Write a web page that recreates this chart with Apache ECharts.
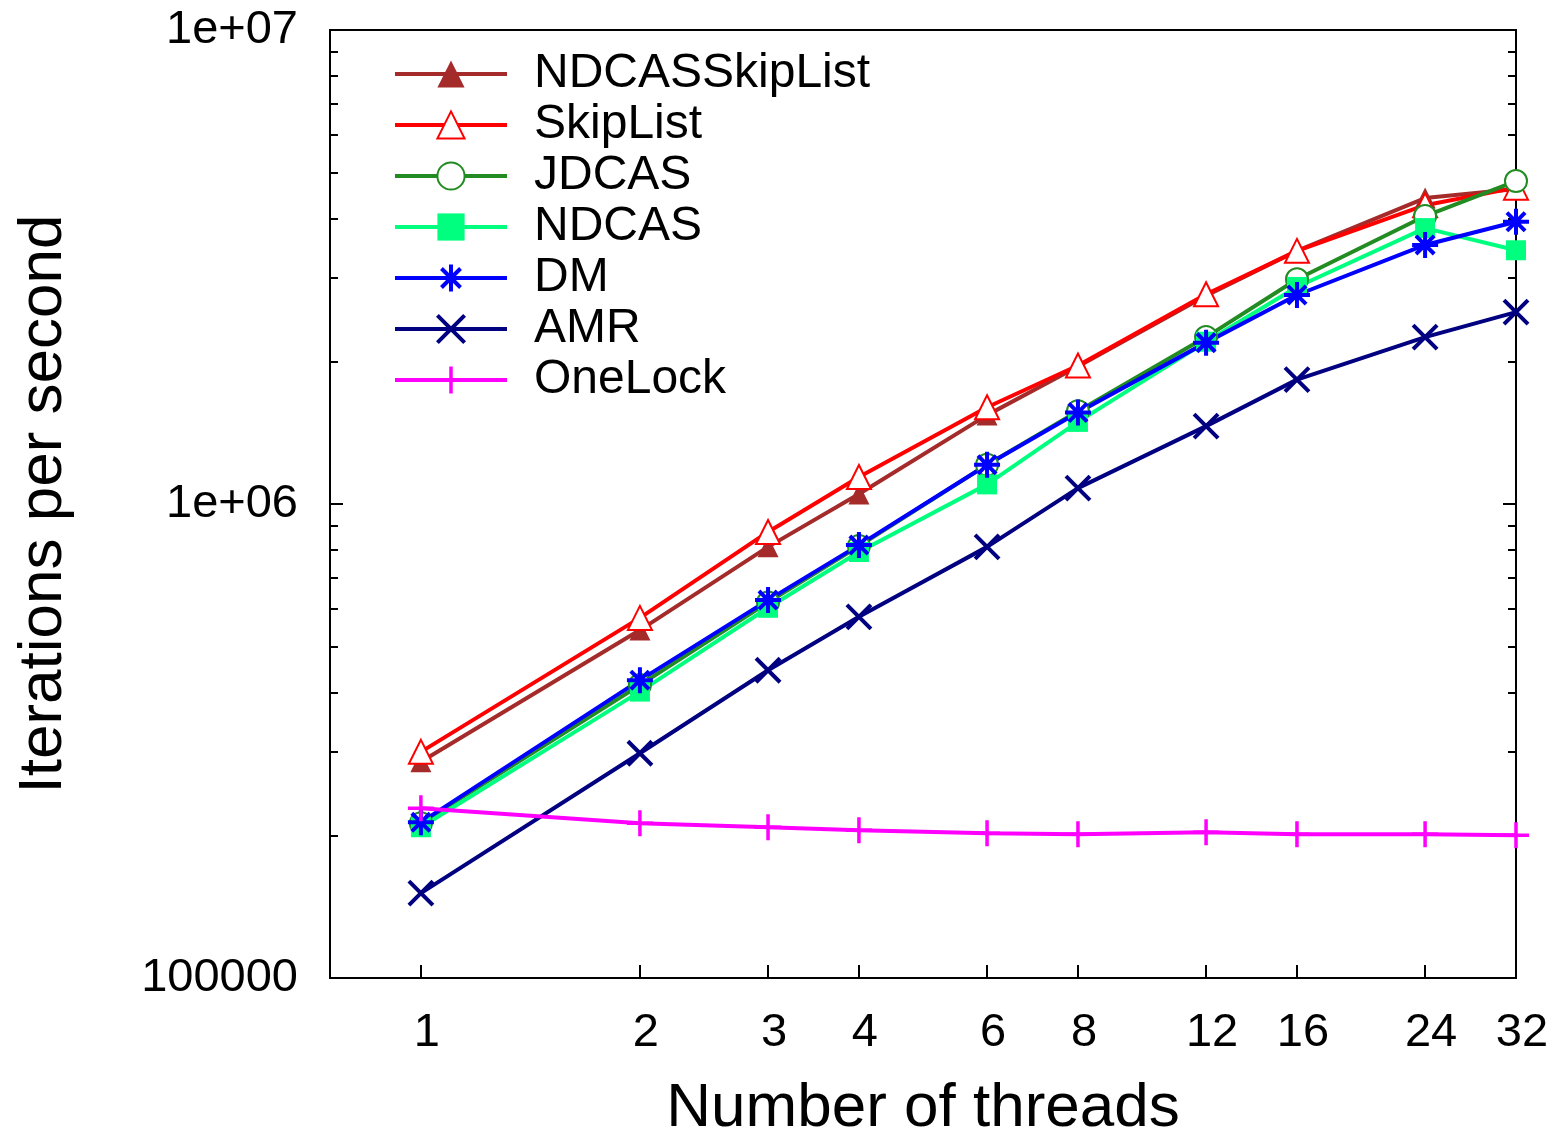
<!DOCTYPE html>
<html>
<head>
<meta charset="utf-8">
<script src="https://cdn.jsdelivr.net/npm/echarts@6/dist/echarts.min.js"></script>
<style>
  html, body { margin: 0; padding: 0; background: #fff; }
  #chart { width: 1555px; height: 1134px; }
</style>
</head>
<body>
<div id="chart"></div>
<script>
// x: number of threads
const threads = [1, 2, 3, 4, 6, 8, 12, 16, 24, 32]

// iterations per second, one list per implementation
const ndcasSkipList = [2.86e5, 5.42e5, 8.12e5, 1.05e6, 1.54e6, 1.95e6, 2.75e6, 3.42e6, 4.42e6, 4.62e6]
const skipList = [3.0e5, 5.75e5, 8.73e5, 1.14e6, 1.60e6, 1.96e6, 2.77e6, 3.42e6, 4.27e6, 4.65e6]
const jdcas = [2.12e5, 4.15e5, 6.2e5, 8.15e5, 1.21e6, 1.57e6, 2.25e6, 2.98e6, 4.05e6, 4.80e6]
const ndcas = [2.08e5, 4.02e5, 6.04e5, 7.92e5, 1.10e6, 1.49e6, 2.20e6, 2.87e6, 3.82e6, 3.43e6]
const dm = [2.13e5, 4.25e5, 6.27e5, 8.19e5, 1.21e6, 1.56e6, 2.19e6, 2.76e6, 3.52e6, 3.94e6]
const amr = [1.51e5, 2.98e5, 4.46e5, 5.78e5, 8.12e5, 1.08e6, 1.46e6, 1.83e6, 2.25e6, 2.54e6]
const oneLock = [2.28e5, 2.12e5, 2.08e5, 2.05e5, 2.02e5, 2.01e5, 2.03e5, 2.01e5, 2.01e5, 2.0e5]

// y tick values and labels
const yMajorTicks = [1e5, 1e6, 1e7]
const yMajorLabels = ['100000', '1e+06', '1e+07']
const yMinorTicks = [2e5, 3e5, 4e5, 5e5, 6e5, 7e5, 8e5, 9e5, 2e6, 3e6, 4e6, 5e6, 6e6, 7e6, 8e6, 9e6]

const FONT = '"Liberation Sans", Arial, Helvetica, sans-serif'

const toPairs = (ys) => threads.map((t, i) => [t, ys[i]])

// 系列定义
const seriesDefs = [
  { name: 'NDCASSkipList', data: ndcasSkipList, color: '#a52a2a', symbol: 'triangle', size: 21, border: 0 },
  { name: 'SkipList', data: skipList, color: '#ff0000', symbol: 'emptyTriangle', size: 24, border: 3.5 },
  { name: 'JDCAS', data: jdcas, color: '#228b22', symbol: 'emptyCircle', size: 22, border: 3.5 },
  { name: 'NDCAS', data: ndcas, color: '#00ff7f', symbol: 'rect', size: 20, border: 0 },
  { name: 'DM', data: dm, color: '#0000ff', symbol: 'path://M0,-10L0,10M-10,0L10,0M-7,-7L7,7M-7,7L7,-7', size: 26, border: 4 },
  { name: 'AMR', data: amr, color: '#000080', symbol: 'path://M-10,-10L10,10M-10,10L10,-10', size: 24, border: 4 },
  { name: 'OneLock', data: oneLock, color: '#ff00ff', symbol: 'path://M0,-10L0,10M-10,0L10,0', size: 26, border: 3.5 }
]

const series = seriesDefs.map(d => ({
  name: d.name,
  type: 'line',
  data: toPairs(d.data),
  symbol: d.symbol,
  symbolSize: d.size,
  showAllSymbol: true,
  clip: false,
  color: d.color,
  lineStyle: { color: d.color, width: 4 },
  itemStyle: { color: d.color, borderColor: d.color, borderWidth: d.border },
  emphasis: { disabled: true }
}))

const yBase = {
  type: 'log',
  logBase: 10,
  min: 1e5,
  max: 1e7,
  splitLine: { show: false },
  axisLine: { show: true, lineStyle: { color: '#000', width: 2 } }
}

const chart = echarts.init(document.getElementById('chart'))
chart.setOption({
  animation: false,
  backgroundColor: '#fff',
  grid: {
    left: 330, right: 39, top: 30, bottom: 156,
    outerBoundsMode: 'none',
    show: true, borderColor: '#000', borderWidth: 2, backgroundColor: 'transparent'
  },
  legend: {
    data: seriesDefs.map(d => ({ name: d.name, itemStyle: { borderWidth: d.border } })),
    orient: 'vertical',
    left: 388,
    top: 44,
    itemWidth: 112,
    itemHeight: 34,
    itemGap: 1,
    lineStyle: { width: 4 },
    textStyle: { fontFamily: FONT, fontSize: 48, color: '#000', lineHeight: 50, padding: [0, 0, 0, 22] }
  },
  xAxis: {
    type: 'log',
    logBase: 2,
    min: 0.75,
    max: 32,
    name: 'Number of threads',
    nameLocation: 'middle',
    nameGap: 100,
    nameTextStyle: { fontFamily: FONT, fontSize: 62, color: '#000' },
    splitLine: { show: false },
    axisLine: { show: true, lineStyle: { color: '#000', width: 2 } },
    axisTick: { show: true, inside: true, length: 13, customValues: threads, lineStyle: { color: '#000', width: 2 } },
    axisLabel: {
      customValues: threads, margin: 32, padding: [0, 0, 0, 12],
      fontFamily: FONT, fontSize: 47, color: '#000', formatter: v => String(v)
    }
  },
  yAxis: [
    Object.assign({}, yBase, {
      position: 'left',
      name: 'Iterations per second',
      nameLocation: 'middle',
      nameGap: 255,
      nameTextStyle: { fontFamily: FONT, fontSize: 62, color: '#000' },
      axisTick: { show: true, inside: true, length: 13, customValues: yMajorTicks, lineStyle: { color: '#000', width: 2 } },
      axisLabel: {
        customValues: yMajorTicks, margin: 32, fontFamily: FONT, fontSize: 47, color: '#000',
        formatter: v => yMajorLabels[yMajorTicks.findIndex(t => Math.abs(t - v) / t < 1e-6)]
      }
    }),
    Object.assign({}, yBase, {
      position: 'left',
      axisTick: { show: true, inside: true, length: 8, customValues: yMinorTicks, lineStyle: { color: '#000', width: 2 } },
      axisLabel: { show: false }
    }),
    Object.assign({}, yBase, {
      position: 'right',
      axisTick: { show: true, inside: true, length: 13, customValues: yMajorTicks, lineStyle: { color: '#000', width: 2 } },
      axisLabel: { show: false }
    }),
    Object.assign({}, yBase, {
      position: 'right',
      axisTick: { show: true, inside: true, length: 8, customValues: yMinorTicks, lineStyle: { color: '#000', width: 2 } },
      axisLabel: { show: false }
    })
  ],
  series: series
})
</script>
</body>
</html>
